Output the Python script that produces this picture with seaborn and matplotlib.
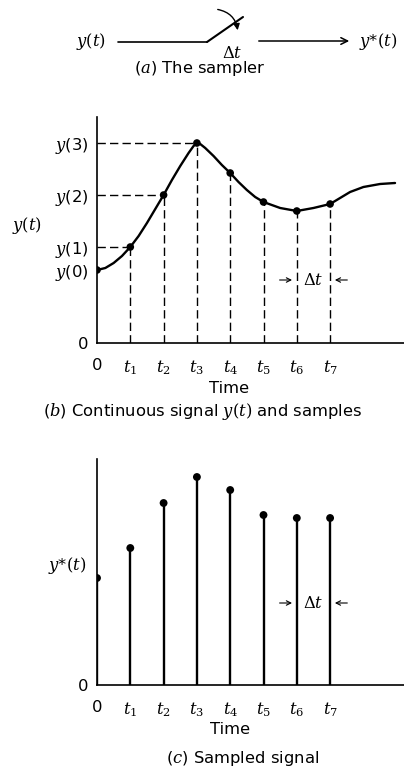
import numpy as np
import pandas as pd
import matplotlib
matplotlib.use("Agg")
import matplotlib.pyplot as plt
import seaborn as sns

sns.set_style("white")
plt.rcParams['font.family'] = ['DejaVu Sans']
plt.rcParams['mathtext.fontset'] = 'dejavuserif'
plt.rcParams['text.color'] = 'black'
plt.rcParams['xtick.color'] = 'black'
plt.rcParams['ytick.color'] = 'black'

# sample index (multiples of delta t)
t_idx = [0, 1, 2, 3, 4, 5, 6, 7]
t_labels = ['0', r'$t_1$', r'$t_2$', r'$t_3$', r'$t_4$', r'$t_5$', r'$t_6$', r'$t_7$']

# panel b: continuous signal
curve_t = [0, 0.25, 0.5, 0.75, 1, 1.25, 1.5, 1.75, 2, 2.25, 2.5, 2.75, 2.9, 3, 3.1, 3.25, 3.5, 3.75,
           4, 4.25, 4.5, 4.75, 5, 5.5, 6, 6.5, 7, 7.25, 7.6, 8.0, 8.5, 8.95]
curve_y = [73, 75, 80, 87, 96, 107, 120, 134, 148, 163, 177, 190, 197, 200, 199, 195, 187, 178,
           170, 161, 153, 146, 141, 135, 132, 135, 139, 144, 151, 156, 159, 160]
samples_b = [73, 96, 148, 200, 170, 141, 132, 139]
ylab_b = [r'$y$(0)', r'$y$(1)', r'$y$(2)', r'$y$(3)']

# panel c: sampled signal
samples_c = [107, 137, 182, 208, 195, 170, 167, 167]

W, H = 404, 769
fig = plt.figure(figsize=(W / 100, H / 100), dpi=100)


def fx(x):
    return x / W


def fy(y):
    return 1 - y / H


FS = 11.8

# ---------- (a) the sampler ----------
axa = fig.add_axes([0, fy(110), 1, 110 / H])
axa.set_xlim(0, W)
axa.set_ylim(110, 0)
axa.axis('off')
axa.plot([118, 207], [42, 42], color='black', lw=1.2)
axa.plot([207, 243], [42, 17], color='black', lw=1.5)
axa.annotate('', xy=(238, 33), xytext=(215, 9),
             arrowprops=dict(arrowstyle='-|>', color='black', lw=1.0,
                             connectionstyle='arc3,rad=-0.4', mutation_scale=9))
axa.annotate('', xy=(352, 41), xytext=(256, 41),
             arrowprops=dict(arrowstyle='->', color='black', lw=1.1, mutation_scale=12))
axa.text(91, 42, r'$y(t)$', ha='center', va='center', fontsize=FS)
axa.text(378, 42, r'$y$*$(t)$', ha='center', va='center', fontsize=FS)
axa.text(232, 53, r'$\Delta t$', ha='center', va='center', fontsize=FS)
axa.text(200, 69, r'($a$) The sampler', ha='center', va='center', fontsize=FS)


def base_axes(top_px, bottom_px):
    ax = fig.add_axes([fx(97), fy(bottom_px), fx(W - 97), (bottom_px - top_px) / H])
    ax.set_xlim(0, (W - 97) / 33.3)
    ax.set_ylim(0, 226)
    for s in ['top', 'right']:
        ax.spines[s].set_visible(False)
    for s in ['left', 'bottom']:
        ax.spines[s].set_color('black')
        ax.spines[s].set_linewidth(1.2)
    ax.set_xticks(t_idx)
    ax.set_xticklabels(t_labels, fontsize=FS)
    ax.tick_params(axis='x', length=0, pad=11)
    ax.tick_params(axis='y', length=0, pad=6)
    return ax


def delta_t(ax, y):
    ax.annotate('', xy=(5.94, y), xytext=(5.4, y),
                arrowprops=dict(arrowstyle='->', color='black', lw=0.8, mutation_scale=8))
    ax.annotate('', xy=(7.06, y), xytext=(7.6, y),
                arrowprops=dict(arrowstyle='->', color='black', lw=0.8, mutation_scale=8))
    ax.text(6.5, y, r'$\Delta t$', ha='center', va='center', fontsize=FS)


# ---------- (b) continuous signal and samples ----------
axb = base_axes(117, 343)
df_curve = pd.DataFrame({'t': curve_t, 'y': curve_y})
df_b = pd.DataFrame({'t': t_idx, 'y': samples_b})
for t, v in zip(t_idx[1:], samples_b[1:]):
    axb.plot([t, t], [0, v], color='black', lw=1.0, ls=(0, (6, 3)))
for t, v in zip(t_idx[1:4], samples_b[1:4]):
    axb.plot([0, t], [v, v], color='black', lw=1.0, ls=(0, (6, 3)))
sns.lineplot(data=df_curve, x='t', y='y', ax=axb, color='black', lw=1.7,
             solid_joinstyle='round')
sns.scatterplot(data=df_b, x='t', y='y', ax=axb, color='black', s=30, edgecolor='none', zorder=5)
axb.set_yticks([0] + samples_b[:4])
axb.set_yticklabels(['0'] + ylab_b, fontsize=FS)
axb.set_xlabel('')
axb.set_ylabel('')
delta_t(axb, 63)
fig.text(fx(27), fy(225), r'$y(t)$', ha='center', va='center', fontsize=FS)
fig.text(fx(229), fy(389), 'Time', ha='center', va='center', fontsize=FS)
fig.text(fx(202), fy(411), r'($b$) Continuous signal $y(t)$ and samples',
         ha='center', va='center', fontsize=FS)

# ---------- (c) sampled signal ----------
axc = base_axes(459, 685)
df_c = pd.DataFrame({'t': t_idx, 'y': samples_c})
axc.vlines(df_c['t'], 0, df_c['y'], color='black', lw=1.7)
sns.scatterplot(data=df_c, x='t', y='y', ax=axc, color='black', s=32, edgecolor='none', zorder=5)
axc.set_yticks([0])
axc.set_yticklabels(['0'], fontsize=FS)
axc.set_xlabel('')
axc.set_ylabel('')
delta_t(axc, 82)
fig.text(fx(67), fy(565), r'$y$*$(t)$', ha='center', va='center', fontsize=FS)
fig.text(fx(230), fy(729), 'Time', ha='center', va='center', fontsize=FS)
fig.text(fx(243), fy(758), r'($c$) Sampled signal', ha='center', va='center', fontsize=FS)

fig.savefig('out.png', dpi=100)
